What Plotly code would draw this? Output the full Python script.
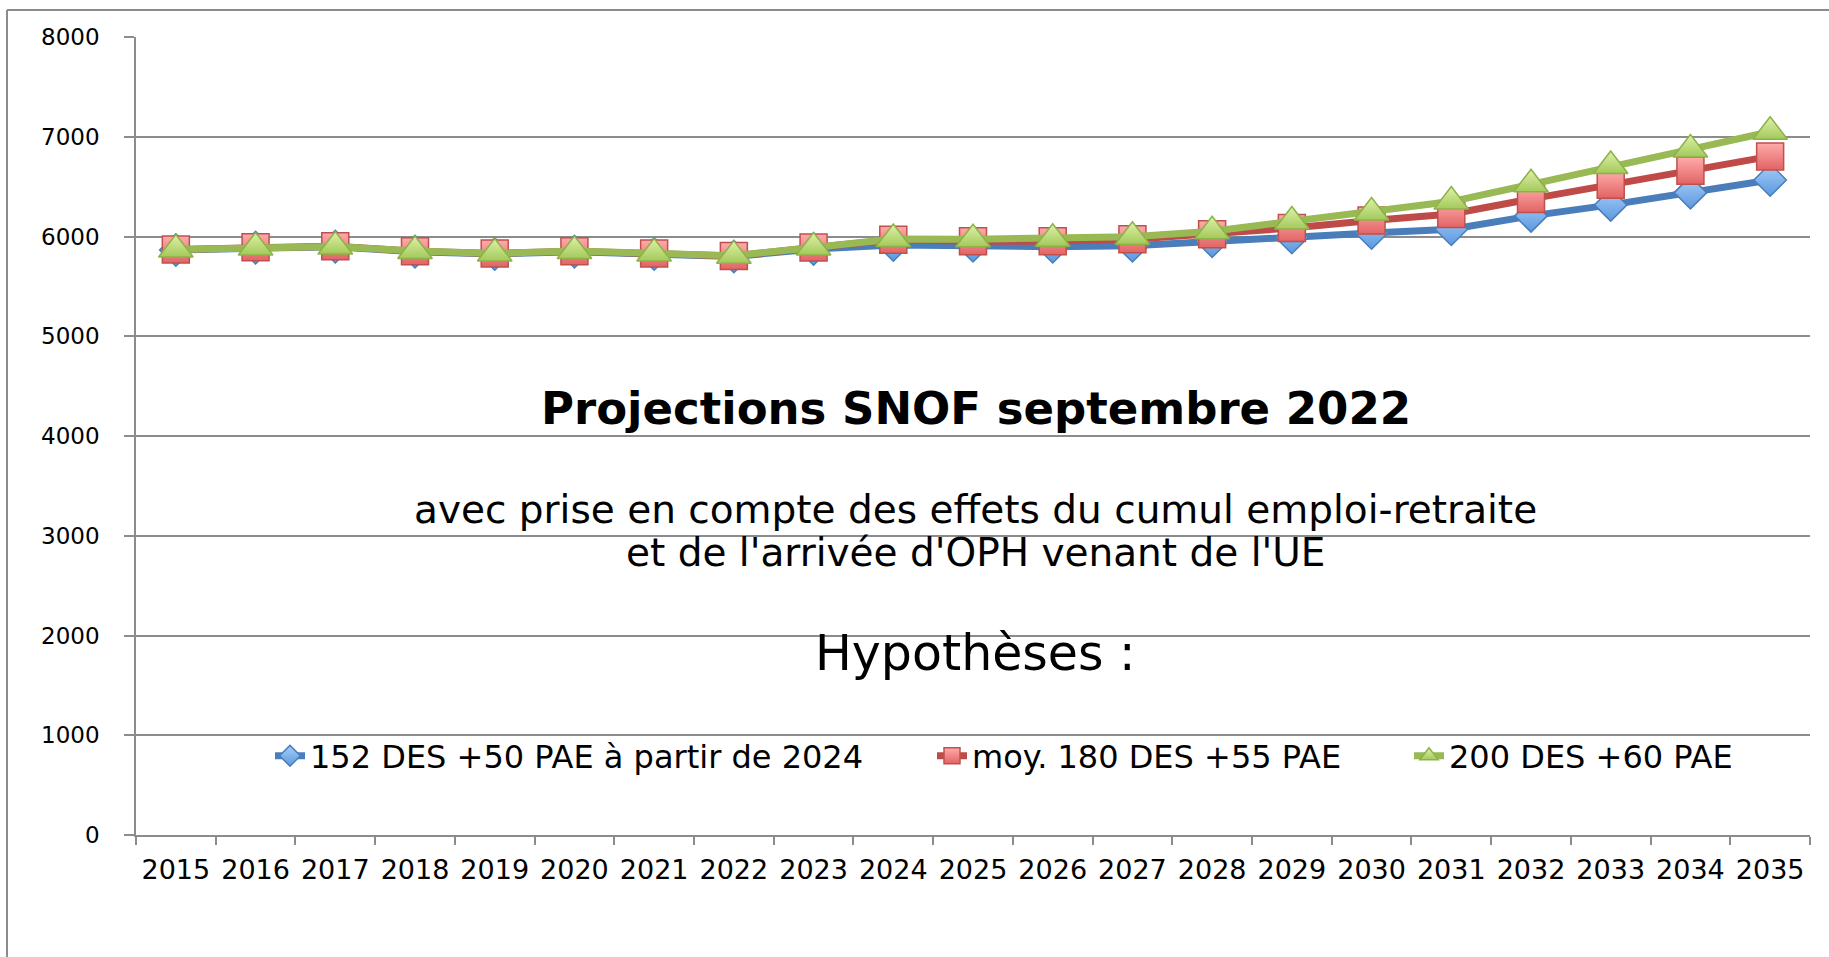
import plotly.graph_objects as go

years = [str(y) for y in range(2015, 2036)]

serie_152 = [5865, 5888, 5898, 5848, 5825, 5848, 5825, 5800, 5875, 5915, 5907,
             5897, 5907, 5953, 5990, 6035, 6073, 6207, 6317, 6440, 6567]
serie_180 = [5870, 5893, 5903, 5853, 5830, 5853, 5830, 5805, 5890, 5968, 5952,
             5952, 5973, 6023, 6085, 6160, 6225, 6377, 6520, 6660, 6803]
serie_200 = [5870, 5890, 5900, 5855, 5830, 5855, 5830, 5808, 5890, 5975, 5972,
             5978, 5997, 6053, 6150, 6240, 6350, 6523, 6707, 6873, 7050]

names = ["152 DES +50 PAE à partir de 2024", "moy. 180 DES +55 PAE", "200 DES +60 PAE"]
y_ticks = [0, 1000, 2000, 3000, 4000, 5000, 6000, 7000, 8000]

FONT = "DejaVu Sans"
W, H = 1829, 957
L, R, T, B = 136, 19, 37, 122
PW, PH = W - L - R, H - T - B


def px(x):
    return (x - L) / PW


def py(y):
    return (H - B - y) / PH


fig = go.Figure()

fig.add_trace(go.Scatter(
    x=years, y=serie_152, name=names[0], mode="lines+markers",
    line=dict(color="#4A7EBB", width=7),
    marker=dict(symbol="diamond", size=25, color="#a9cff9",
                gradient=dict(type="vertical", color="#5a98df"),
                line=dict(color="#4a7ebb", width=1.5)),
    legend="legend",
))
fig.add_trace(go.Scatter(
    x=years, y=serie_180, name=names[1], mode="lines+markers",
    line=dict(color="#BE4B48", width=7),
    marker=dict(symbol="square", size=27, color="#ffabab",
                gradient=dict(type="vertical", color="#e26464"),
                line=dict(color="#c0504d", width=1.5)),
    legend="legend2",
))
fig.add_trace(go.Scatter(
    x=years, y=serie_200, name=names[2], mode="lines+markers",
    line=dict(color="#98B954", width=7),
    marker=dict(symbol="triangle-up", size=30, color="#e0f1aa",
                gradient=dict(type="vertical", color="#a3c95a"),
                line=dict(color="#8db248", width=1.5)),
    legend="legend3",
))

legend_common = dict(orientation="h", yanchor="middle", xanchor="left",
                     bgcolor="rgba(0,0,0,0)",
                     font=dict(family=FONT, size=32, color="black"))

fig.update_layout(
    width=W, height=H,
    margin=dict(l=L, r=R, t=T, b=B, pad=0),
    paper_bgcolor="white", plot_bgcolor="white",
    showlegend=True,
    legend=dict(x=px(270), y=py(756), **legend_common),
    legend2=dict(x=px(932), y=py(756), **legend_common),
    legend3=dict(x=px(1409), y=py(756), **legend_common),
    xaxis=dict(type="category", range=[-0.5, 20.5], tickson="boundaries",
               ticks="outside", ticklen=8, tickcolor="#8c8c8c", tickwidth=1.5,
               showline=True, linecolor="#8c8c8c", linewidth=2,
               showgrid=False, zeroline=False,
               tickfont=dict(family=FONT, size=27, color="black"),
               ticklabelstandoff=10),
    yaxis=dict(range=[0, 8000], tickvals=y_ticks,
               ticks="outside", ticklen=10, tickcolor="#8c8c8c", tickwidth=1.5,
               showline=True, linecolor="#8c8c8c", linewidth=1.5,
               showgrid=True, gridcolor="#8c8c8c", gridwidth=1.5,
               zeroline=False,
               tickfont=dict(family=FONT, size=23, color="black"),
               ticklabelstandoff=20),
    font=dict(family=FONT, color="black"),
)

# outer chart-area border (top and left edges visible)
fig.add_shape(type="line", xref="paper", yref="paper",
              x0=px(7), x1=px(W + 20), y0=py(10), y1=py(10),
              line=dict(color="#8c8c8c", width=2))
fig.add_shape(type="line", xref="paper", yref="paper",
              x0=px(7), x1=px(7), y0=py(10), y1=py(H + 20),
              line=dict(color="#8c8c8c", width=2))

fig.add_annotation(text="<b>Projections SNOF septembre 2022</b>",
                   xref="paper", yref="paper", x=px(976), y=py(408),
                   showarrow=False, xanchor="center", yanchor="middle",
                   font=dict(family=FONT, size=45, color="black"))
fig.add_annotation(text="avec prise en compte des effets du cumul emploi-retraite",
                   xref="paper", yref="paper", x=px(976), y=py(510),
                   showarrow=False, xanchor="center", yanchor="middle",
                   font=dict(family=FONT, size=39, color="black"))
fig.add_annotation(text="et de l'arrivée d'OPH venant de l'UE",
                   xref="paper", yref="paper", x=px(976), y=py(552),
                   showarrow=False, xanchor="center", yanchor="middle",
                   font=dict(family=FONT, size=39, color="black"))
fig.add_annotation(text="Hypothèses :",
                   xref="paper", yref="paper", x=px(976), y=py(653),
                   showarrow=False, xanchor="center", yanchor="middle",
                   font=dict(family=FONT, size=49, color="black"))

fig.write_html("out.html", config={"displayModeBar": False},
               post_script="document.body.style.margin='0';document.body.style.overflow='hidden';")
